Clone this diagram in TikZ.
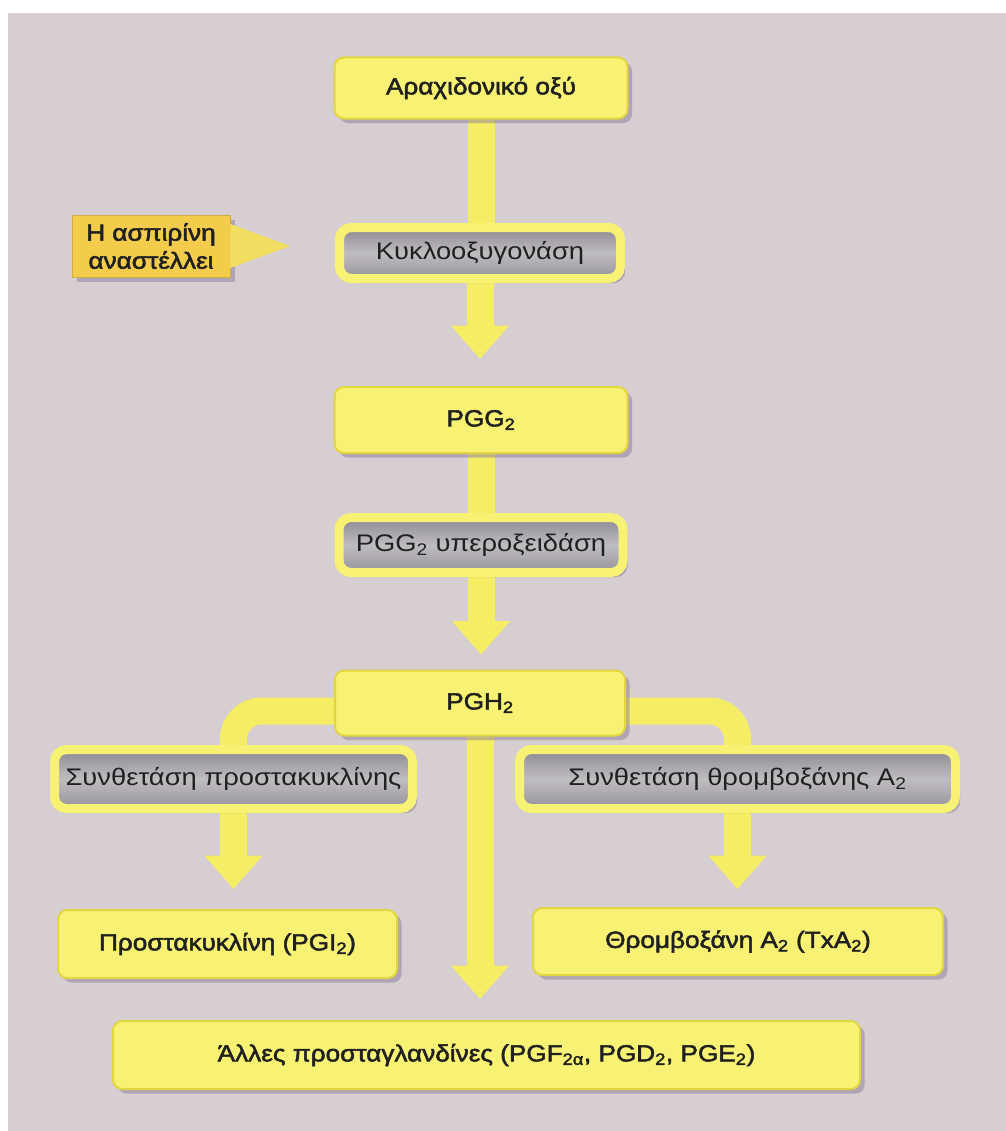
\documentclass[tikz,border=0pt]{standalone}
\usepackage{fontspec}
\setmainfont{Liberation Sans}[FakeStretch=1.14]
\newfontfamily\boldish{Liberation Sans}[FakeStretch=1.12,FakeBold=2.2]
\usetikzlibrary{arrows.meta,shadows,calc}
\pgfdeclarelayer{paper}
\pgfdeclarelayer{links}
\pgfsetlayers{paper,links,main}

\definecolor{paperc}{RGB}{214,206,208}
\definecolor{yfill}{RGB}{247,242,116}
\definecolor{yedge}{RGB}{226,214,64}
\definecolor{yband}{RGB}{245,237,100}
\definecolor{gtop}{RGB}{140,136,146}
\definecolor{gmid}{RGB}{192,189,193}
\definecolor{gbot}{RGB}{150,146,156}
\definecolor{ink}{RGB}{32,32,32}
\definecolor{shadowc}{RGB}{140,124,158}
\definecolor{aspfill}{RGB}{243,204,76}
\definecolor{asptip}{RGB}{242,222,96}

\tikzset{every picture/.style={line width=0.75pt}}
\tikzset{
  boxshadow/.style={drop shadow={shadow xshift=3.5pt,shadow yshift=-3.5pt,fill=shadowc,opacity=0.5}},
  pbox/.style={draw=yedge,line width=1.5pt,fill=yfill,rounded corners=7pt,text=ink,
    font=\boldish\fontsize{17.5}{21}\selectfont,inner sep=0pt,boxshadow},
  ebox/.style={draw=yfill,line width=6.75pt,rounded corners=9pt,top color=gtop,bottom color=gbot,
    middle color=gmid,text=ink,font=\fontsize{18}{21}\selectfont,inner sep=0pt,boxshadow},
  aspbox/.style={draw=aspfill!85!black,line width=0.75pt,fill=aspfill,text=ink,align=center,
    font=\boldish\fontsize{17.5}{21}\selectfont,inner sep=0pt,boxshadow},
  band/.style={draw=yband,line width=20.25pt},
  headtip/.style={-{Triangle[width=42pt,length=25pt]}},
  asptri/.style={draw=asptip,line width=0.5pt,-{Triangle[width=33pt,length=45pt]}}
}

\begin{document}
\begin{tikzpicture}[x=0.75pt,y=0.75pt,yscale=-1,xscale=1]
\useasboundingbox (0,0) rectangle (1006,1131);
\begin{pgfonlayer}{paper}
\fill[paperc] (8,13) rectangle (1006,1131);
\end{pgfonlayer}

% Text Node
\draw (481,88) node [pbox,minimum width=219.75pt,minimum height=45.75pt] (acid) {Αραχιδονικό οξύ};
% Text Node
\draw (480,253) node [ebox,minimum width=210.75pt,minimum height=38.25pt] (cox) {Κυκλοοξυγονάση};
% Text Node
\draw (151,246) node [aspbox,minimum width=118.5pt,minimum height=46.5pt] (aspirin) {Η ασπιρίνη\\αναστέλλει};
% Text Node
\draw (481,420) node [pbox,minimum width=219.75pt,minimum height=49.5pt] (pgg) {PGG\textsubscript{2}};
% Text Node
\draw (481,545) node [ebox,minimum width=213pt,minimum height=41.25pt] (perox) {PGG\textsubscript{2} υπεροξειδάση};
% Text Node
\draw (480,703) node [pbox,minimum width=217.5pt,minimum height=48.75pt] (pgh) {PGH\textsubscript{2}};
% Text Node
\draw (233.5,779) node [ebox,minimum width=268.5pt,minimum height=44.25pt] (prosyn) {Συνθετάση προστακυκλίνης};
% Text Node
\draw (737.5,779) node [ebox,minimum width=327pt,minimum height=44.25pt] (thromsyn) {Συνθετάση θρομβοξάνης A\textsubscript{2}};
% Text Node
\draw (227.5,944) node [pbox,minimum width=254.25pt,minimum height=51pt] (pgi) {Προστακυκλίνη (PGI\textsubscript{2})};
% Text Node
\draw (738,941.5) node [pbox,minimum width=307.5pt,minimum height=50.25pt] (txa) {Θρομβοξάνη A\textsubscript{2} (TxA\textsubscript{2})};
% Text Node
\draw (486.5,1055) node [pbox,minimum width=560.25pt,minimum height=51pt] (other) {Άλλες προσταγλανδίνες (PGF\textsubscript{2α}, PGD\textsubscript{2}, PGE\textsubscript{2})};

\begin{pgfonlayer}{links}
%Straight Lines
\draw [band] (acid.south) -- (acid.south |- cox.north) ;
%Straight Lines
\draw [band,headtip,shorten >=20.25pt] (cox.south) -- (cox.south |- pgg.north) ;
%Straight Lines
\draw [band] (pgg.south) -- (pgg.south |- perox.north) ;
%Straight Lines
\draw [band,headtip,shorten >=11.25pt] (perox.south) -- (perox.south |- pgh.north) ;
%Curve Lines
\draw [band,rounded corners=21pt] ($(pgh.west)+(0,8)$) -| (prosyn.north) ;
%Curve Lines
\draw [band,rounded corners=21pt] ($(pgh.east)+(0,8)$) -| (thromsyn.north) ;
%Straight Lines
\draw [band,headtip,shorten >=15.75pt] (pgh.south) -- (pgh.south |- other.north) ;
%Straight Lines
\draw [band,headtip,shorten >=15pt] (prosyn.south) -- (prosyn.south |- pgi.north) ;
%Straight Lines
\draw [band,headtip,shorten >=13.5pt] (thromsyn.south) -- (thromsyn.south |- txa.north) ;
\end{pgfonlayer}
%Straight Lines
\draw [asptri,shorten >=33.75pt] (aspirin.east) -- (aspirin.east -| cox.west) ;

\end{tikzpicture}
\end{document}
